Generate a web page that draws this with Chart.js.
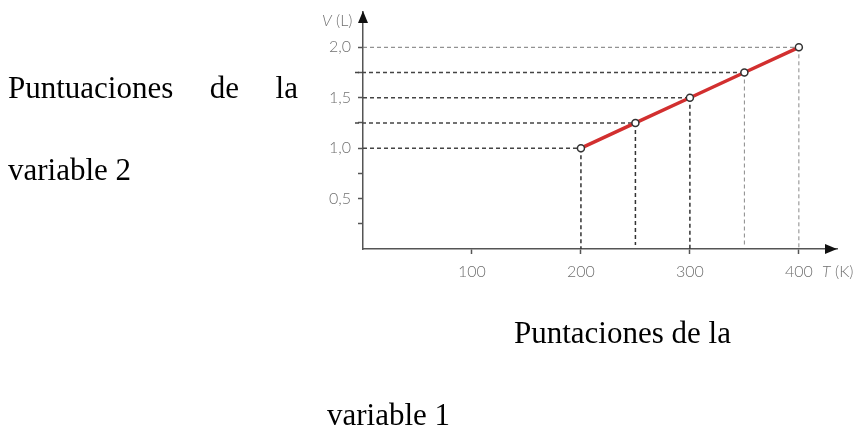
<!DOCTYPE html>
<html>
<head>
<meta charset="utf-8">
<script src="https://cdn.jsdelivr.net/npm/chart.js@4.4.1/dist/chart.umd.min.js"></script>
<style>
  html, body { margin: 0; padding: 0; background: #fff; }
  #wrap { position: relative; width: 856px; height: 430px; overflow: hidden; }
  #chart { position: absolute; left: 0; top: 0; }
  .txt { position: absolute; font-family: "Liberation Serif", "Times New Roman", serif; font-size: 31px; line-height: 31px; color: #000; white-space: nowrap; }
  .just { white-space: normal; text-align: justify; text-align-last: justify; }
</style>
</head>
<body>
<div id="wrap">
  <canvas id="chart" width="856" height="430"></canvas>
  <div class="txt just" style="left:8px; top:72px; width:290px;">Puntuaciones de la</div>
  <div class="txt" style="left:8px; top:154px;">variable 2</div>
  <div class="txt" style="left:514px; top:317px;">Puntaciones de la</div>
  <div class="txt" style="left:327px; top:399px;">variable 1</div>
</div>
<script>
// Temperatura (K) y volumen (L)
const temps = [200, 250, 300, 350, 400];
const volumes = [1.0, 1.25, 1.5, 1.75, 2.0];
const xTicks = [100, 200, 300, 400];
const yTicks = [0.25, 0.5, 0.75, 1.0, 1.25, 1.5, 1.75, 2.0];
const yLabeled = [0.5, 1.0, 1.5, 2.0];

const axisColor = '#555';
const labelColor = '#707070';
const tickFont = { family: 'Lato, "DejaVu Sans", sans-serif', size: 16, weight: 300 };

// guide lines from each point to both axes + arrow heads + axis titles
const guides = {
    id: 'guides',
    beforeDatasetsDraw(chart) {
        const { ctx, scales: { x, y } } = chart;
        ctx.save();
        ctx.setLineDash([4, 3]);
        temps.forEach((t, i) => {
            const px = x.getPixelForValue(t);
            const py = y.getPixelForValue(volumes[i]);
            const light = t >= 350;
            ctx.strokeStyle = light ? '#888' : '#333';
            ctx.lineWidth = light ? 1 : 1.5;
            ctx.beginPath();
            ctx.moveTo(px, py);
            ctx.lineTo(px, y.getPixelForValue(0) - (t % 100 ? 4 : 0));
            ctx.stroke();
            ctx.strokeStyle = t === 400 ? '#777' : '#444';
            ctx.lineWidth = t === 400 ? 1 : 1.5;
            ctx.beginPath();
            ctx.moveTo(x.left - (t % 100 ? 8 : 0), py);
            ctx.lineTo(px, py);
            ctx.stroke();
        });
        ctx.restore();
    },
    afterDraw(chart) {
        const { ctx, chartArea: a } = chart;
        ctx.save();
        ctx.fillStyle = '#111';
        // y arrow
        ctx.beginPath();
        ctx.moveTo(a.left, a.top - 1);
        ctx.lineTo(a.left - 5, a.top + 11);
        ctx.lineTo(a.left + 5, a.top + 11);
        ctx.closePath();
        ctx.fill();
        // x arrow
        ctx.beginPath();
        ctx.moveTo(a.right, a.bottom);
        ctx.lineTo(a.right - 12, a.bottom - 5);
        ctx.lineTo(a.right - 12, a.bottom + 5);
        ctx.closePath();
        ctx.fill();
        ctx.fillStyle = labelColor;
        ctx.textBaseline = 'alphabetic';
        ctx.font = 'italic 300 16px Lato, "DejaVu Sans", sans-serif';
        ctx.textAlign = 'left';
        ctx.fillText('V', a.left - 41, a.top + 14);
        ctx.fillText('T', a.right - 15, a.bottom + 28);
        ctx.font = '300 16px Lato, "DejaVu Sans", sans-serif';
        ctx.fillText('(L)', a.left - 27, a.top + 14);
        ctx.fillText('(K)', a.right - 2, a.bottom + 28);
        ctx.restore();
    }
};

new Chart(document.getElementById('chart'), {
    type: 'scatter',
    data: {
        datasets: [{
            data: temps.map((t, i) => ({ x: t, y: volumes[i] })),
            showLine: true,
            borderColor: '#d22f2f',
            borderWidth: 3.5,
            pointRadius: 3.5,
            pointBorderWidth: 1.5,
            pointBackgroundColor: '#fff',
            pointBorderColor: '#333'
        }]
    },
    options: {
        responsive: false,
        animation: false,
        devicePixelRatio: 1,
        layout: { padding: { left: 303, top: 12, right: 19, bottom: 141 } },
        plugins: { legend: { display: false }, tooltip: { enabled: false } },
        scales: {
            x: {
                type: 'linear', min: 0, max: 435,
                afterFit(s) { s.height = 40; s.paddingLeft = 0; s.paddingRight = 0; },
                afterBuildTicks(s) { s.ticks = xTicks.map(v => ({ value: v })); },
                border: { display: true, color: axisColor, width: 1.5 },
                grid: { drawOnChartArea: false, drawTicks: true, tickLength: 5, color: axisColor, tickWidth: 1.5 },
                ticks: { color: labelColor, font: tickFont, padding: 8, maxRotation: 0 }
            },
            y: {
                type: 'linear', min: 0, max: 2.35,
                afterFit(s) { s.width = 60; s.paddingTop = 0; s.paddingBottom = 0; },
                afterBuildTicks(s) { s.ticks = yTicks.map(v => ({ value: v })); },
                border: { display: true, color: axisColor, width: 1.5 },
                grid: { drawOnChartArea: false, drawTicks: true, tickLength: 5, color: axisColor, tickWidth: 1.5 },
                ticks: {
                    color: labelColor, font: tickFont, padding: 7,
                    callback: v => yLabeled.includes(v) ? v.toFixed(1).replace('.', ',') : ''
                }
            }
        }
    },
    plugins: [guides]
});
</script>
</body>
</html>
